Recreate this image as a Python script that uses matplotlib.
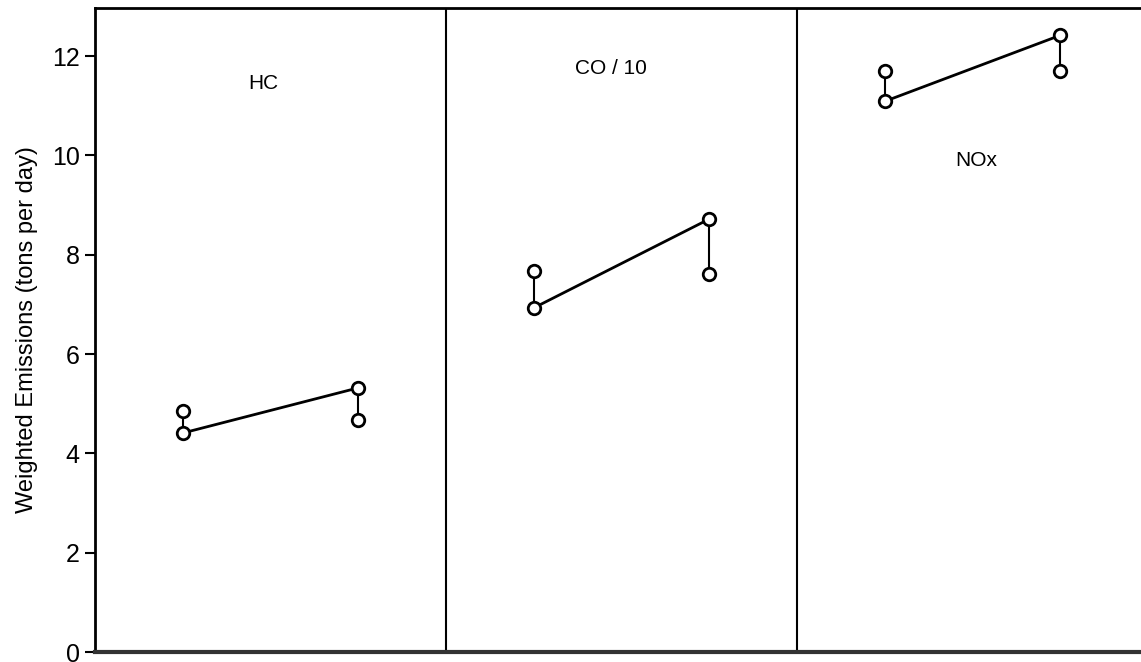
import numpy as np
import matplotlib
matplotlib.use('Agg')
import matplotlib.pyplot as plt

plt.rcParams['font.family'] = ['Liberation Sans', 'DejaVu Sans']

pollutants = ['HC', 'CO / 10', 'NOx']
# first period (left pair) and second period (right pair) of each panel
left_upper = [4.85, 7.67, 11.70]
left_lower = [4.41, 6.93, 11.09]
right_upper = [5.32, 8.72, 12.42]
right_lower = [4.67, 7.61, 11.70]
label_pos = [(0.48, 11.45), (1.47, 11.75), (2.51, 9.9)]

fig = plt.figure(figsize=(11.41, 6.62), dpi=100)
ax = fig.add_axes([95 / 1141, 10 / 662, 1046 / 1141, 644 / 662])

for i in range(3):
    xl = i + 0.25
    xr = i + 0.75
    ax.plot([xl, xl], [left_upper[i], left_lower[i]], color='black', lw=1.5, zorder=2)
    ax.plot([xr, xr], [right_upper[i], right_lower[i]], color='black', lw=1.5, zorder=2)
    ax.plot([xl, xr], [left_lower[i], right_upper[i]], color='black', lw=2, zorder=2)
    ax.plot([xl, xl, xr, xr], [left_upper[i], left_lower[i], right_upper[i], right_lower[i]],
            'o', ms=9, mfc='white', mec='black', mew=2, ls='none', zorder=3)
    ax.text(label_pos[i][0], label_pos[i][1], pollutants[i], fontsize=15,
            ha='center', va='center')

for d in [1, 2]:
    ax.axvline(d, color='black', lw=1.5)

ax.set_xlim(0, 2.98)
ax.set_ylim(0, 12.97)
ax.set_yticks(np.arange(0, 13, 2))
ax.set_xticks([])
ax.tick_params(axis='y', labelsize=18, length=7, width=1.5, direction='out', pad=4)
ax.set_ylabel('Weighted Emissions (tons per day)', fontsize=17, labelpad=10)
ax.spines['right'].set_visible(False)
ax.spines['left'].set_linewidth(2)
ax.spines['top'].set_linewidth(2)
ax.spines['bottom'].set_linewidth(3)
ax.spines['bottom'].set_color('#333333')

fig.savefig('out.png', dpi=100)
